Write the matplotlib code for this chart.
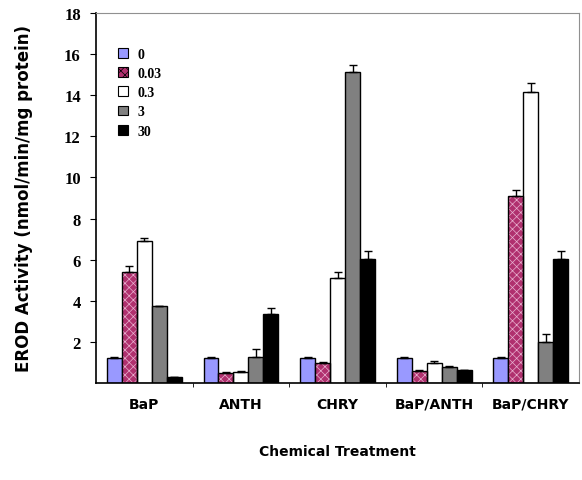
import numpy as np
import matplotlib.pyplot as plt

# data
treatments = ['BaP', 'ANTH', 'CHRY', 'BaP/ANTH', 'BaP/CHRY']
doses = ['0', '0.03', '0.3', '3', '30']
dose_0 = [1.23, 1.23, 1.23, 1.23, 1.23]
dose_003 = [5.4, 0.5, 0.97, 0.6, 9.1]
dose_03 = [6.9, 0.55, 5.1, 0.98, 14.15]
dose_3 = [3.75, 1.28, 15.15, 0.79, 1.98]
dose_30 = [0.3, 3.36, 6.03, 0.64, 6.03]
err_0 = [0.05, 0.05, 0.05, 0.05, 0.05]
err_003 = [0.3, 0.04, 0.05, 0.04, 0.28]
err_03 = [0.15, 0.05, 0.3, 0.1, 0.42]
err_3 = [0.0, 0.35, 0.33, 0.05, 0.4]
err_30 = [0.0, 0.28, 0.37, 0.0, 0.37]

series = [dose_0, dose_003, dose_03, dose_3, dose_30]
errors = [err_0, err_003, err_03, err_3, err_30]
faces = ['#9999ff', '#b0306e', 'white', '#808080', 'black']

plt.rcParams['hatch.linewidth'] = 0.5

fig = plt.figure(figsize=(5.82, 4.81), dpi=100)
ax = fig.add_axes([0.165, 0.2017, 0.83, 0.7693])

x = np.arange(len(treatments))
w = 0.155
for i, (vals, errs) in enumerate(zip(series, errors)):
    pos = x + (i - 2) * w
    if i == 1:
        # dotted pink fill, drawn under a plain black outline
        ax.bar(pos, vals, w, color=faces[i], edgecolor='#e8b0d0', hatch='xxxx',
               linewidth=0, zorder=2)
        ax.bar(pos, vals, w, fill=False, edgecolor='black', linewidth=1, zorder=3)
        ax.bar([0], [0], color=faces[i], edgecolor='#e8b0d0', hatch='xxxx', linewidth=0,
               label=doses[i])
    else:
        ax.bar(pos, vals, w, color=faces[i], edgecolor='black', linewidth=1,
               label=doses[i], zorder=2)
    ax.errorbar(pos, vals, yerr=[np.zeros(len(errs)), errs], fmt='none',
                ecolor='black', elinewidth=1, capsize=3, capthick=1, zorder=4)

ax.set_xlim(-0.5, 4.5)
ax.set_ylim(0, 18)
ax.set_yticks([2, 4, 6, 8, 10, 12, 14, 16, 18])
ax.set_yticklabels(['2', '4', '6', '8', '10', '12', '14', '16', '18'],
                   family='Liberation Serif', fontweight='bold', fontsize=12)
ax.set_xticks(x)
ax.set_xticklabels(treatments, fontweight='heavy', fontsize=10)
ax.set_xticks(np.arange(0.5, 4.5, 1), minor=True)
ax.tick_params(axis='x', which='major', length=0, pad=10)
ax.tick_params(axis='x', which='minor', length=3, direction='out')
ax.tick_params(axis='y', length=4, direction='out', pad=7)

for s in ['top', 'right']:
    ax.spines[s].set_color('#909090')
ax.spines['left'].set_linewidth(1.2)
ax.spines['bottom'].set_linewidth(1.2)

ax.set_ylabel('EROD Activity (nmol/min/mg protein)', fontweight='heavy',
              fontsize=12, labelpad=22)
ax.set_xlabel('Chemical Treatment', fontweight='heavy', fontsize=10, labelpad=24)

leg = ax.legend(loc='upper left', bbox_to_anchor=(0.02, 0.94), frameon=False,
                handlelength=0.7, handleheight=0.7, labelspacing=0.45,
                handletextpad=0.7,
                prop={'family': 'Liberation Serif', 'weight': 'bold', 'size': 10})
for h in leg.legend_handles:
    h.set_edgecolor('black')
    h.set_linewidth(0.8)

fig.savefig('out.png', dpi=100)
